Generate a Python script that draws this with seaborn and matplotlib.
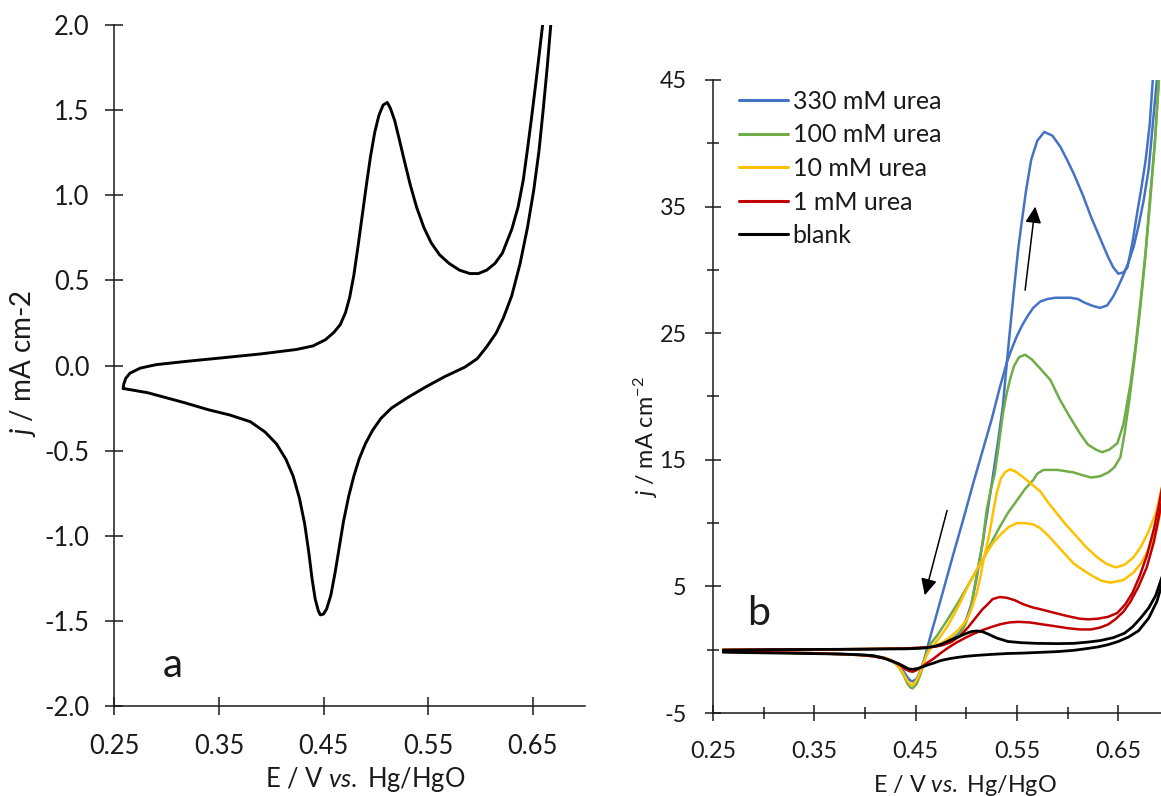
import matplotlib
matplotlib.use("Agg")
import matplotlib.pyplot as plt
import numpy as np
import pandas as pd
import seaborn as sns
from matplotlib.ticker import FixedLocator, FormatStrFormatter
from matplotlib.lines import Line2D

# ---------------- panel a: blank Ni electrode CV ----------------
a_fwd_E = [0.2585, 0.2590, 0.2610, 0.2650, 0.2750, 0.2900, 0.320, 0.353, 0.390, 0.424,
           0.440, 0.452, 0.460, 0.466, 0.471, 0.475, 0.479, 0.483, 0.487, 0.491,
           0.495, 0.499, 0.503, 0.507, 0.511, 0.514, 0.518, 0.522, 0.527, 0.533,
           0.539, 0.546, 0.553, 0.561, 0.570, 0.580, 0.590, 0.598, 0.606, 0.614,
           0.621, 0.630, 0.636, 0.641, 0.645, 0.649, 0.653, 0.657, 0.661, 0.664]
a_fwd_j = [-0.135, -0.11, -0.075, -0.045, -0.015, 0.005, 0.025, 0.045, 0.068, 0.094,
           0.115, 0.152, 0.195, 0.24, 0.31, 0.40, 0.53, 0.70, 0.88, 1.06,
           1.23, 1.37, 1.47, 1.53, 1.545, 1.51, 1.44, 1.34, 1.21, 1.06,
           0.93, 0.81, 0.72, 0.65, 0.60, 0.56, 0.54, 0.54, 0.56, 0.60,
           0.66, 0.80, 0.93, 1.09, 1.27, 1.46, 1.66, 1.87, 2.08, 2.25]
a_rev_E = [0.670, 0.667, 0.664, 0.660, 0.656, 0.651, 0.645, 0.638, 0.630, 0.622,
           0.615, 0.606, 0.597, 0.585, 0.566, 0.548, 0.530, 0.515, 0.505, 0.497,
           0.490, 0.484, 0.479, 0.474, 0.469, 0.465, 0.461, 0.457, 0.453, 0.450,
           0.447, 0.445, 0.442, 0.439, 0.436, 0.432, 0.427, 0.421, 0.414, 0.405,
           0.394, 0.380, 0.360, 0.340, 0.318, 0.300, 0.282, 0.268, 0.2585]
a_rev_j = [2.2, 1.98, 1.76, 1.50, 1.26, 1.03, 0.81, 0.60, 0.41, 0.28,
           0.19, 0.11, 0.04, -0.01, -0.065, -0.125, -0.19, -0.25, -0.31, -0.38,
           -0.46, -0.55, -0.65, -0.77, -0.92, -1.07, -1.22, -1.35, -1.43, -1.46,
           -1.465, -1.44, -1.37, -1.25, -1.10, -0.93, -0.78, -0.65, -0.55, -0.46,
           -0.39, -0.33, -0.29, -0.26, -0.22, -0.19, -0.16, -0.145, -0.135]

# ---------------- panel b: urea concentration series ----------------
b_labels = ["330 mM urea", "100 mM urea", "10 mM urea", "1 mM urea", "blank"]
b_colors = ["#4472C4", "#70AD47", "#FFC000", "#C00000", "#000000"]

u330_fwd_E = [0.26, 0.30, 0.35, 0.40, 0.44, 0.46, 0.475, 0.485, 0.494, 0.500, 0.505, 0.510,
              0.516, 0.521, 0.526, 0.531, 0.536, 0.540, 0.544, 0.548, 0.551, 0.554, 0.559,
              0.564, 0.570, 0.577, 0.585, 0.593, 0.600, 0.606, 0.615, 0.623, 0.632, 0.640,
              0.645, 0.650, 0.655, 0.659, 0.664, 0.669, 0.673, 0.677, 0.681, 0.684, 0.688]
u330_fwd_j = [0.0, 0.0, 0.02, 0.05, 0.1, 0.15, 0.35, 0.75, 1.4, 2.4, 3.6, 5.6,
              8.4, 11.0, 13.6, 16.3, 19.2, 22.7, 26.0, 29.2, 31.5, 33.4, 36.3,
              38.7, 40.2, 40.9, 40.6, 39.7, 38.6, 37.6, 35.9, 34.2, 32.5, 31.0,
              30.2, 29.7, 29.8, 30.2, 32.2, 34.7, 36.6, 38.7, 41.5, 45.0, 48.5]
u330_rev_E = [0.692, 0.688, 0.684, 0.680, 0.675, 0.670, 0.665, 0.660, 0.655, 0.650, 0.645,
              0.639, 0.632, 0.625, 0.617, 0.610, 0.603, 0.595, 0.588, 0.580, 0.573, 0.566,
              0.560, 0.555, 0.550, 0.545, 0.540, 0.533, 0.525, 0.516, 0.507, 0.497, 0.487,
              0.478, 0.470, 0.465, 0.462, 0.459, 0.455, 0.451, 0.447, 0.445, 0.442, 0.438,
              0.434, 0.430, 0.425, 0.420, 0.410, 0.400, 0.380, 0.350, 0.300, 0.26]
u330_rev_j = [48.0, 45.0, 41.5, 38.0, 35.5, 33.5, 31.8, 30.6, 29.6, 28.7, 27.9,
              27.2, 27.0, 27.15, 27.4, 27.7, 27.8, 27.8, 27.8, 27.7, 27.5, 27.0,
              26.3, 25.6, 24.8, 23.8, 22.7, 20.7, 18.2, 15.7, 13.2, 10.3, 7.5,
              4.9, 2.6, 1.2, 0.3, -0.6, -1.6, -2.3, -2.5, -2.45, -2.2, -1.7,
              -1.3, -1.0, -0.8, -0.65, -0.5, -0.42, -0.35, -0.28, -0.2, -0.15]

u100_fwd_E = [0.26, 0.30, 0.35, 0.40, 0.44, 0.46, 0.470, 0.478, 0.485, 0.490, 0.494, 0.499,
              0.504, 0.510, 0.516, 0.520, 0.524, 0.528, 0.531, 0.536, 0.540, 0.543, 0.547,
              0.552, 0.558, 0.565, 0.573, 0.583, 0.592, 0.602, 0.612, 0.620, 0.628, 0.634,
              0.641, 0.649, 0.655, 0.662, 0.667, 0.672, 0.677, 0.681, 0.686, 0.690, 0.694]
u100_fwd_j = [0.0, 0.0, 0.02, 0.05, 0.1, 0.15, 0.3, 0.5, 0.8, 1.05, 1.3, 2.0,
              3.1, 5.8, 8.4, 11.0, 12.6, 13.9, 15.6, 18.6, 20.3, 21.3, 22.4,
              23.1, 23.3, 22.9, 22.2, 21.3, 19.8, 18.4, 17.1, 16.2, 15.8, 15.6,
              15.8, 16.3, 17.8, 21.0, 24.0, 27.6, 31.5, 35.5, 40.0, 45.0, 48.5]
u100_rev_E = [0.694, 0.690, 0.686, 0.681, 0.676, 0.671, 0.666, 0.661, 0.656, 0.652, 0.646,
              0.640, 0.632, 0.623, 0.614, 0.606, 0.598, 0.590, 0.583, 0.576, 0.570, 0.566,
              0.558, 0.550, 0.541, 0.533, 0.525, 0.517, 0.509, 0.501, 0.491, 0.480, 0.471,
              0.466, 0.463, 0.459, 0.455, 0.451, 0.447, 0.445, 0.442, 0.438, 0.434, 0.430,
              0.425, 0.420, 0.410, 0.400, 0.380, 0.350, 0.300, 0.26]
u100_rev_j = [48.0, 45.0, 40.0, 35.0, 30.5, 26.5, 23.0, 19.8, 17.0, 15.2, 14.4,
              14.0, 13.7, 13.6, 13.8, 14.0, 14.1, 14.2, 14.2, 14.2, 13.9, 13.4,
              12.7, 11.8, 10.8, 9.7, 8.5, 7.2, 6.1, 5.0, 3.6, 2.2, 1.1,
              0.6, 0.25, -0.8, -1.9, -2.7, -3.05, -3.0, -2.7, -2.0, -1.45, -1.1,
              -0.85, -0.7, -0.55, -0.45, -0.36, -0.28, -0.2, -0.15]

u10_fwd_E = [0.26, 0.30, 0.35, 0.40, 0.44, 0.46, 0.467, 0.476, 0.484, 0.492, 0.500, 0.505,
             0.510, 0.514, 0.517, 0.521, 0.524, 0.527, 0.530, 0.534, 0.538, 0.543, 0.548,
             0.555, 0.564, 0.573, 0.581, 0.590, 0.598, 0.606, 0.617, 0.629, 0.638, 0.647,
             0.656, 0.665, 0.672, 0.679, 0.687, 0.694]
u10_fwd_j = [0.0, 0.0, 0.02, 0.05, 0.1, 0.15, 0.25, 0.55, 1.0, 1.55, 2.3, 3.2,
             4.4, 5.8, 7.1, 8.5, 9.7, 11.1, 12.4, 13.5, 14.0, 14.25, 14.1,
             13.7, 13.1, 12.5, 11.6, 10.7, 9.9, 9.2, 8.2, 7.3, 6.8, 6.5,
             6.7, 7.3, 8.1, 9.2, 10.8, 13.2]
u10_rev_E = [0.694, 0.688, 0.681, 0.673, 0.665, 0.655, 0.642, 0.633, 0.625, 0.615, 0.606,
             0.598, 0.590, 0.581, 0.573, 0.566, 0.558, 0.550, 0.542, 0.535, 0.526, 0.518,
             0.510, 0.502, 0.495, 0.488, 0.481, 0.474, 0.468, 0.464, 0.461, 0.458, 0.455,
             0.451, 0.447, 0.445, 0.442, 0.438, 0.434, 0.430, 0.425, 0.420, 0.410, 0.400,
             0.380, 0.350, 0.300, 0.26]
u10_rev_j = [12.0, 9.5, 8.1, 6.9, 6.1, 5.5, 5.3, 5.45, 5.8, 6.3, 6.8,
             7.5, 8.2, 9.0, 9.6, 9.9, 10.0, 10.0, 9.7, 9.2, 8.4, 7.4,
             6.3, 5.1, 3.9, 2.8, 1.8, 1.0, 0.4, 0.0, -0.4, -1.0, -1.7,
             -2.4, -2.8, -2.75, -2.5, -1.9, -1.4, -1.05, -0.8, -0.65, -0.52, -0.45,
             -0.36, -0.28, -0.2, -0.15]

u1_fwd_E = [0.26, 0.30, 0.35, 0.40, 0.44, 0.46, 0.470, 0.477, 0.485, 0.494, 0.502, 0.510,
            0.516, 0.520, 0.526, 0.533, 0.540, 0.548, 0.556, 0.565, 0.573, 0.585, 0.600,
            0.612, 0.620, 0.630, 0.640, 0.649, 0.657, 0.664, 0.671, 0.678, 0.685, 0.690, 0.695]
u1_fwd_j = [0.0, 0.0, 0.02, 0.05, 0.1, 0.18, 0.25, 0.37, 0.6, 1.1, 1.8, 2.6,
            3.2, 3.5, 4.0, 4.16, 4.1, 3.9, 3.6, 3.35, 3.2, 2.95, 2.65,
            2.45, 2.4, 2.45, 2.6, 2.9, 3.6, 4.5, 5.8, 7.4, 9.5, 11.4, 13.6]
u1_rev_E = [0.695, 0.690, 0.685, 0.678, 0.670, 0.662, 0.655, 0.647, 0.640, 0.632, 0.623,
            0.612, 0.600, 0.588, 0.575, 0.563, 0.551, 0.542, 0.533, 0.525, 0.516, 0.507,
            0.498, 0.490, 0.482, 0.475, 0.467, 0.462, 0.458, 0.454, 0.450, 0.447, 0.444,
            0.440, 0.436, 0.432, 0.427, 0.420, 0.410, 0.400, 0.380, 0.350, 0.300, 0.26]
u1_rev_j = [12.6, 10.5, 8.5, 6.5, 5.0, 3.8, 3.0, 2.4, 2.0, 1.75, 1.6,
            1.6, 1.7, 1.85, 2.0, 2.15, 2.2, 2.15, 2.0, 1.8, 1.55, 1.25,
            0.9, 0.55, 0.15, -0.25, -0.75, -1.0, -1.25, -1.45, -1.65, -1.74, -1.7,
            -1.55, -1.3, -1.1, -0.9, -0.7, -0.55, -0.45, -0.36, -0.28, -0.2, -0.15]

blank_fwd_E = [0.26, 0.30, 0.35, 0.40, 0.44, 0.451, 0.46, 0.468, 0.476, 0.484, 0.490,
               0.496, 0.501, 0.506, 0.511, 0.516, 0.522, 0.530, 0.541, 0.555, 0.570,
               0.590, 0.606, 0.620, 0.632, 0.645, 0.656, 0.664, 0.672, 0.680, 0.687, 0.695]
blank_fwd_j = [-0.05, 0.0, 0.02, 0.04, 0.07, 0.1, 0.15, 0.25, 0.45, 0.75, 0.95,
               1.15, 1.32, 1.45, 1.48, 1.42, 1.22, 0.92, 0.65, 0.55, 0.5,
               0.48, 0.5, 0.6, 0.72, 0.95, 1.3, 1.8, 2.5, 3.3, 4.3, 6.2]
blank_rev_E = [0.695, 0.688, 0.680, 0.670, 0.660, 0.650, 0.640, 0.630, 0.620, 0.606,
               0.590, 0.570, 0.555, 0.541, 0.525, 0.510, 0.500, 0.492, 0.484, 0.475,
               0.468, 0.462, 0.457, 0.452, 0.447, 0.443, 0.438, 0.433, 0.428, 0.423,
               0.418, 0.408, 0.395, 0.380, 0.343, 0.300, 0.26]
blank_rev_j = [5.7, 3.8, 2.5, 1.5, 1.0, 0.65, 0.4, 0.22, 0.1, -0.05,
               -0.15, -0.22, -0.27, -0.3, -0.37, -0.45, -0.52, -0.6, -0.7, -0.85,
               -1.05, -1.2, -1.35, -1.48, -1.55, -1.52, -1.3, -1.1, -0.95, -0.8,
               -0.65, -0.47, -0.4, -0.35, -0.3, -0.25, -0.2]

b_sweeps = [
    (u330_fwd_E, u330_fwd_j, u330_rev_E, u330_rev_j),
    (u100_fwd_E, u100_fwd_j, u100_rev_E, u100_rev_j),
    (u10_fwd_E, u10_fwd_j, u10_rev_E, u10_rev_j),
    (u1_fwd_E, u1_fwd_j, u1_rev_E, u1_rev_j),
    (blank_fwd_E, blank_fwd_j, blank_rev_E, blank_rev_j),
]

# ---------------- style ----------------
sns.set_style("ticks")
plt.rcParams.update({
    "font.family": ["Lato", "DejaVu Sans"],
    "axes.unicode_minus": False,
    "mathtext.fontset": "custom",
    "mathtext.rm": "Lato",
    "mathtext.it": "Lato:italic",
    "mathtext.bf": "Lato:bold",
    "axes.linewidth": 1.1,
    "axes.edgecolor": "#1a1a1a",
    "text.color": "#1a1a1a",
    "xtick.color": "#1a1a1a",
    "ytick.color": "#1a1a1a",
    "lines.solid_joinstyle": "round",
    "lines.solid_capstyle": "round",
})

W, H = 1161, 796
fig = plt.figure(figsize=(W / 100, H / 100), dpi=100)
fig.patch.set_facecolor("white")

ax_a = fig.add_axes([114.3 / W, 1 - 706 / H, (585 - 114.3) / W, (706 - 25) / H])
ax_b = fig.add_axes([713 / W, 1 - 713 / H, (1169 - 713) / W, (713 - 80) / H])

def sweep_frame(E, j, name):
    return pd.DataFrame({"E": E, "j": j, "sweep": name})

# panel a
df_a = pd.concat([sweep_frame(a_rev_E, a_rev_j, "cathodic"),
                  sweep_frame(a_fwd_E, a_fwd_j, "anodic")], ignore_index=True)
sns.lineplot(data=df_a, x="E", y="j", units="sweep", estimator=None, sort=False,
             color="black", lw=2.1, ax=ax_a, legend=False)

# panel b
for (fE, fj, rE, rj), lab, col in zip(b_sweeps, b_labels, b_colors):
    df = pd.concat([sweep_frame(fE, fj, "anodic"), sweep_frame(rE, rj, "cathodic")],
                   ignore_index=True)
    sns.lineplot(data=df, x="E", y="j", units="sweep", estimator=None, sort=False,
                 color=col, lw=2.0 if lab == "blank" else 1.8, ax=ax_b, legend=False)

for ax in (ax_a, ax_b):
    sns.despine(ax=ax)
    ax.set_xlabel("")
    ax.set_ylabel("")
    ax.set_facecolor("white")

# axes a formatting
ax_a.set_xlim(0.25, 0.70)
ax_a.set_ylim(-2.0, 2.0)
ax_a.xaxis.set_major_locator(FixedLocator([0.25, 0.35, 0.45, 0.55, 0.65]))
ax_a.yaxis.set_major_locator(FixedLocator(np.arange(-2.0, 2.01, 0.5)))
ax_a.xaxis.set_major_formatter(FormatStrFormatter("%.2f"))
ax_a.yaxis.set_major_formatter(FormatStrFormatter("%.1f"))
ax_a.tick_params(axis="both", which="major", direction="inout", length=13, width=1.1,
                 labelsize=18.4)
ax_a.tick_params(axis="x", pad=14)
ax_a.tick_params(axis="y", pad=11.5)

# axes b formatting
ax_b.set_xlim(0.25, 0.70)
ax_b.set_ylim(-5, 45)
ax_b.xaxis.set_major_locator(FixedLocator([0.25, 0.35, 0.45, 0.55, 0.65]))
ax_b.xaxis.set_minor_locator(FixedLocator([0.30, 0.40, 0.50, 0.60]))
ax_b.yaxis.set_major_locator(FixedLocator([-5, 5, 15, 25, 35, 45]))
ax_b.yaxis.set_minor_locator(FixedLocator([0, 10, 20, 30, 40]))
ax_b.xaxis.set_major_formatter(FormatStrFormatter("%.2f"))
ax_b.yaxis.set_major_formatter(FormatStrFormatter("%d"))
ax_b.tick_params(axis="both", which="major", direction="inout", length=12, width=1.1,
                 labelsize=16.8)
ax_b.tick_params(axis="both", which="minor", direction="inout", length=9, width=1.1)
ax_b.tick_params(axis="x", which="major", pad=14)
ax_b.tick_params(axis="y", which="major", pad=13)

# direction-of-scan arrows
arrow_up = ((0.558, 28.4), (0.568, 35.0))
arrow_down = ((0.481, 11.0), (0.459, 4.3))
for tail, tip in (arrow_up, arrow_down):
    ax_b.annotate("", xy=tip, xytext=tail,
                  arrowprops=dict(arrowstyle="-|>,head_length=0.45,head_width=0.22",
                                  color="black", lw=1.1, mutation_scale=22,
                                  shrinkA=0, shrinkB=0))

# legend
handles = [Line2D([], [], color=c, lw=2.2) for c in b_colors]
fig.legend(handles, b_labels, loc="upper left", bbox_to_anchor=(739 / W, 1 - 90 / H),
           frameon=False, fontsize=18, handlelength=1.95, handletextpad=0.2,
           labelspacing=0.42, borderpad=0, borderaxespad=0)

# axis titles and panel letters
fig.text(23 / W, 1 - 363 / H, r"$j$ / mA cm-2", rotation=90, ha="center", va="center",
         fontsize=20)
fig.text(646 / W, 1 - 437 / H, r"$j$ / mA cm$^{-2}$", rotation=90, ha="center",
         va="center", fontsize=16.8)
fig.text(365 / W, 1 - 787 / H, r"E / V $vs.$ Hg/HgO", ha="center", va="baseline",
         fontsize=18.4)
fig.text(965 / W, 1 - 792 / H, r"E / V $vs.$ Hg/HgO", ha="center", va="baseline",
         fontsize=16.8)
fig.text(173 / W, 1 - 677 / H, "a", ha="center", va="baseline", fontsize=29)
fig.text(759 / W, 1 - 625 / H, "b", ha="center", va="baseline", fontsize=29.5)

fig.savefig("out.png", dpi=100, facecolor="white")
